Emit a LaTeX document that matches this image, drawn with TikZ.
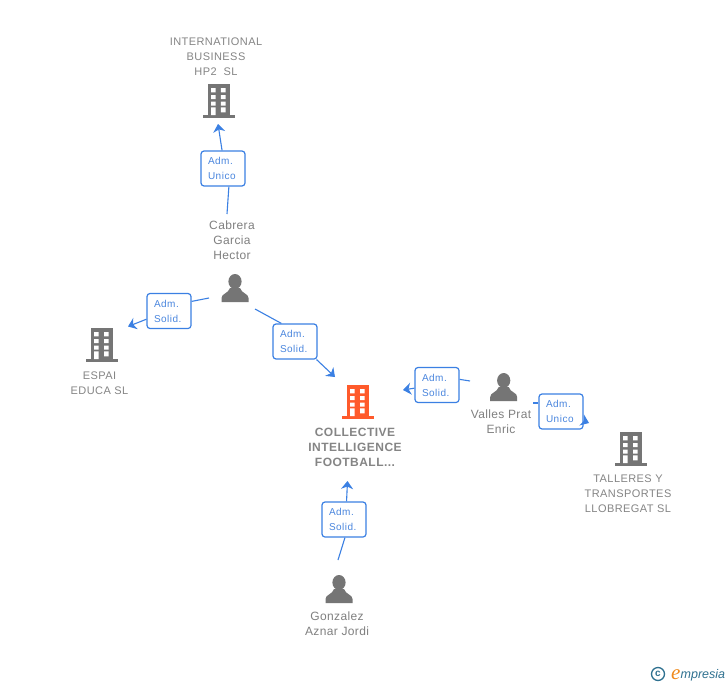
\documentclass[tikz,border=0pt]{standalone}
\usepackage{fontspec}
\setmainfont{Liberation Sans}
\newfontfamily\brandserif{Liberation Serif}
\usetikzlibrary{arrows.meta}
\definecolor{linkblue}{HTML}{3B80E3}
\definecolor{labelblue}{HTML}{4A86DE}
\definecolor{icongrey}{HTML}{757575}
\definecolor{textgrey}{HTML}{858585}
\definecolor{actorgrey}{HTML}{808080}
\definecolor{focusred}{HTML}{FF5A2B}
\definecolor{brandteal}{HTML}{2F7190}
\definecolor{brandorange}{HTML}{F08A1D}
\tikzset{
  x=1pt,y=-1pt,
  rolebox/.style={draw=linkblue,line width=1.2pt,rounded corners=3pt,fill=white,
    text=labelblue,text width=30pt,inner xsep=7pt,inner ysep=0pt,minimum height=35pt,align=left,
    font=\fontsize{10}{15}\selectfont\addfontfeatures{LetterSpace=5}},
  link/.style={draw=linkblue,line width=1.1pt},
  arrowlink/.style={link,-{Stealth[length=8pt,width=12pt,inset=2.5pt]}},
  companytext/.style={text=textgrey,align=center,inner sep=0pt,
    font=\fontsize{11}{15}\selectfont\addfontfeatures{LetterSpace=4}},
  focustext/.style={text=textgrey,align=center,inner sep=0pt,
    font=\fontsize{12}{15}\selectfont\bfseries\addfontfeatures{LetterSpace=4}},
  persontext/.style={text=actorgrey,align=center,inner sep=0pt,
    font=\fontsize{12}{15}\selectfont\addfontfeatures{LetterSpace=3}},
  pics/building/.style={code={
    \fill[#1] (-11,-34) rectangle (11,-1);
    \fill[#1] (-16,-3) rectangle (16,0);
    \fill[white] (-7.5,-30) rectangle (-3,-25.7) (2.3,-30) rectangle (7,-25.7)
                 (-7.5,-23) rectangle (-3,-19) (2.3,-23) rectangle (7,-19)
                 (-7.5,-16.3) rectangle (-3,-12.3) (2.3,-16.3) rectangle (7,-12.3)
                 (-7.5,-10.7) rectangle (-3,-3) (2.3,-10.7) rectangle (7,-5.7);
  }},
  pics/person/.style={code={
    \fill[icongrey] (0,-20.5) ellipse[x radius=6.6,y radius=7.5];
    \fill[icongrey] (-13.5,0) -- (-13.5,-4) .. controls (-13.5,-8.5) and (-6.5,-8.5) .. (-5,-14)
       -- (5,-14) .. controls (6.5,-8.5) and (13.5,-8.5) .. (13.5,-4) -- (13.5,0) -- cycle;
  }},
}
\begin{document}
\begin{tikzpicture}
\useasboundingbox[fill=white] (0,0) rectangle (728,685);

% icons
\pic at (218.5,118) {building=icongrey};
\pic at (101.7,362) {building=icongrey};
\pic at (357.7,419) {building=focusred};
\pic at (630.7,466) {building=icongrey};
\pic at (235,302) {person};
\pic at (503.7,401) {person};
\pic at (339,603) {person};

% names
\node[companytext] (intl) at (216,56.5) {INTERNATIONAL\\BUSINESS\\HP2\ \ SL};
\node[companytext] (espai) at (99.5,383) {ESPAI\\EDUCA SL};
\node[focustext] (collective) at (355,447) {COLLECTIVE\\INTELLIGENCE\\FOOTBALL...};
\node[companytext] (talleres) at (628,493.5) {TALLERES Y\\TRANSPORTES\\LLOBREGAT SL};
\node[persontext] (cabrera) at (232,240) {Cabrera\\Garcia\\Hector};
\node[persontext] (valles) at (501,421.5) {Valles Prat\\Enric};
\node[persontext] (gonzalez) at (337,623.5) {Gonzalez\\Aznar Jordi};

% role boxes
\node[rolebox] (b1) at (223,168.5) {Adm.\\Unico};
\node[rolebox] (b2) at (169,311) {Adm.\\Solid.};
\node[rolebox] (b3) at (295,341.5) {Adm.\\Solid.};
\node[rolebox] (b4) at (437,385) {Adm.\\Solid.};
\node[rolebox] (b5) at (561,411.5) {Adm.\\Unico};
\node[rolebox] (b6) at (344,519.5) {Adm.\\Solid.};

% connector free ends
\coordinate (s1) at (227,214);
\coordinate (t1) at (218,124);
\coordinate (s2) at (209,298);
\coordinate (t2) at (128,326.5);
\coordinate (s3) at (255,309);
\coordinate (t3) at (335,377);
\coordinate (s4) at (470,381);
\coordinate (t4) at (403,390);
\coordinate (s5) at (533,403);
\coordinate (t5) at (589,423);
\coordinate (s6) at (338,560);
\coordinate (t6) at (347.5,481);

% connectors
\draw[link] (s1) -- (b1.-72);
\draw[arrowlink] (b1.93) -- (t1);
\draw[link] (s2) -- (b2.23);
\draw[arrowlink] (b2.200) -- (t2);
\draw[link] (s3) -- (b3.127);
\draw[arrowlink] (b3.-40) -- (t3);
\draw[link] (s4) -- (b4.14);
\draw[arrowlink] (b4.188) -- (t4);
\draw[link] (s5) -- (s5 -| b5.west);
\draw[arrowlink] (b5) -- (t5);
\draw[link] (s6) -- (b6.-87);
\draw[arrowlink] (b6.82) -- (t6);

% brand mark
\node[draw=brandteal,line width=1.3pt,circle,minimum size=13pt,inner sep=0pt,text=brandteal,
  font=\fontsize{10}{10}\selectfont\bfseries] (copy) at (658,674) {c};
\node[anchor=base west,inner sep=0pt,text=brandorange,
  font=\fontsize{21}{21}\selectfont\brandserif\itshape] (brande) at (671,679.5) {e};
\node[anchor=base west,inner sep=0pt,text=brandteal,
  font=\fontsize{12.5}{12.5}\selectfont\itshape] (brandname) at (680.5,678) {mpresia};
\end{tikzpicture}
\end{document}
